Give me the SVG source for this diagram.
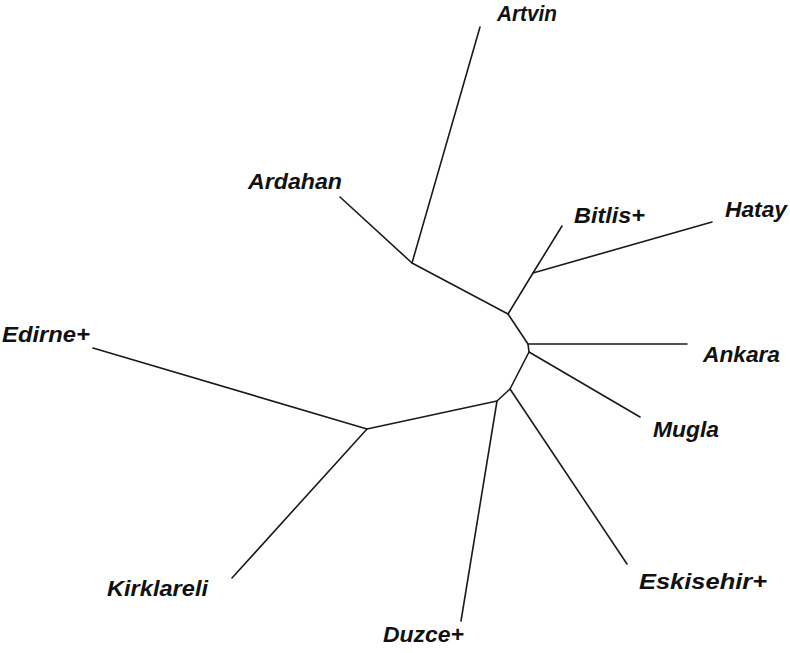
<svg xmlns="http://www.w3.org/2000/svg" width="790" height="653" viewBox="0 0 790 653">
<style>
.e{stroke:#1a1a1a;stroke-width:1.6;fill:none;stroke-linecap:round;stroke-linejoin:round}
.t{font-family:"Liberation Sans",Arial,sans-serif;font-weight:bold;font-style:italic;font-size:22px;fill:#111}
</style>
<rect width="790" height="653" fill="#fff"/>
<g id="edges">
<polyline class="e" points="340,197 412,263 480,27"/>
<polyline class="e" points="412,263 508,314 533,273 562,226"/>
<line class="e" x1="533" y1="273" x2="712" y2="222"/>
<polyline class="e" points="508,314 528,344 687,344"/>
<polyline class="e" points="528,344 529,352 640,417"/>
<polyline class="e" points="529,352 510,389 627,564"/>
<polyline class="e" points="510,389 497,401 461,621"/>
<polyline class="e" points="497,401 367,429 93,348"/>
<line class="e" x1="367" y1="429" x2="232" y2="578"/>
</g>
<g id="Artvin"><text class="t" x="497" y="21" textLength="60" lengthAdjust="spacingAndGlyphs">Artvin</text></g>
<g id="Ardahan"><text class="t" x="248" y="189" textLength="94" lengthAdjust="spacingAndGlyphs">Ardahan</text></g>
<g id="Bitlis"><text class="t" x="574" y="223" textLength="71" lengthAdjust="spacingAndGlyphs">Bitlis+</text></g>
<g id="Hatay"><text class="t" x="725" y="217" textLength="62" lengthAdjust="spacingAndGlyphs">Hatay</text></g>
<g id="Edirne"><text class="t" x="2" y="342" textLength="88" lengthAdjust="spacingAndGlyphs">Edirne+</text></g>
<g id="Ankara"><text class="t" x="703" y="362" textLength="77" lengthAdjust="spacingAndGlyphs">Ankara</text></g>
<g id="Mugla"><text class="t" x="653" y="437" textLength="66" lengthAdjust="spacingAndGlyphs">Mugla</text></g>
<g id="Eskisehir"><text class="t" x="639" y="589" textLength="128" lengthAdjust="spacingAndGlyphs">Eskisehir+</text></g>
<g id="Kirklareli"><text class="t" x="107" y="596" textLength="101" lengthAdjust="spacingAndGlyphs">Kirklareli</text></g>
<g id="Duzce"><text class="t" x="383" y="642" textLength="81" lengthAdjust="spacingAndGlyphs">Duzce+</text></g>
</svg>
